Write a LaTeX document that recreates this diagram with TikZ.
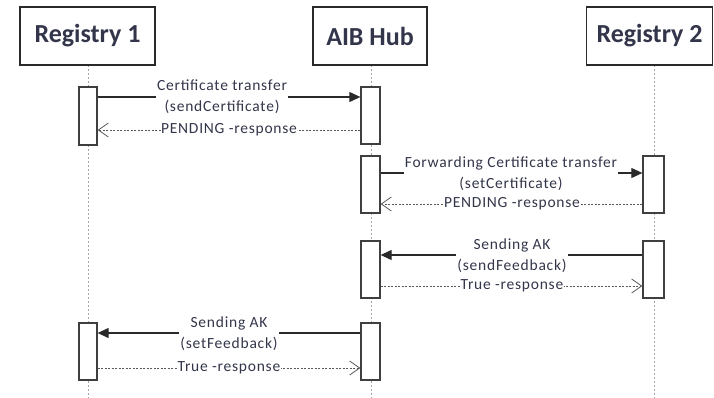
\documentclass[tikz,border=0pt]{standalone}
\usepackage{fontspec}
\setmainfont{Carlito}
\newfontfamily\lblfont[LetterSpace=5]{Carlito}
\usetikzlibrary{arrows.meta}
\definecolor{txt}{HTML}{33364A}
\definecolor{ln}{HTML}{2A2A2A}
\tikzset{
  head/.style={draw=ln, line width=1.6pt, fill=white, font=\fontsize{26}{30}\selectfont\bfseries, text=txt, inner sep=0pt},
  life/.style={draw=gray!70, line width=0.8pt, dash pattern=on 2pt off 2pt},
  bar/.style={draw=ln!90, line width=1.3pt, fill=white},
  msg/.style={draw=ln, line width=1.1pt, -{Triangle[length=11pt,width=10pt]}},
  ret/.style={draw=gray!70!black, line width=0.7pt, dash pattern=on 2pt off 1.5pt, -{Straight Barb[length=10pt,width=14pt,line width=0.8pt]}},
  lbl/.style={fill=white, inner sep=1pt, text=txt, font=\lblfont\fontsize{15.5}{21}\selectfont, align=center},
  rlbl/.style={fill=white, inner sep=0.5pt, text=txt, font=\lblfont\fontsize{15.5}{17}\selectfont}
}
\begin{document}
\begin{tikzpicture}[x=1pt,y=-1pt]
\useasboundingbox (0,0) rectangle (714,398);
% lifelines
\coordinate (l1t) at (88,65); \coordinate (l1b) at (88,398);
\coordinate (l2t) at (371,65); \coordinate (l2b) at (371,398);
\coordinate (l3t) at (654,65); \coordinate (l3b) at (654,398);
\draw[life] (l1t) -- (l1b);
\draw[life] (l2t) -- (l2b);
\draw[life] (l3t) -- (l3b);
% heads
\node[head, minimum width=135pt, minimum height=58pt] (r1) at (87.5,36) {Registry 1};
\node[head, minimum width=114pt, minimum height=58pt] (hub) at (370,36) {AIB Hub};
\node[head, minimum width=126pt, minimum height=58pt] (r2) at (649.5,36) {Registry 2};
% activation bars
\node[bar, minimum width=18pt, minimum height=58pt, inner sep=0pt] (a1) at (88,116) {};
\node[bar, minimum width=19pt, minimum height=57pt, inner sep=0pt] (b1) at (370.5,115.5) {};
\node[bar, minimum width=19pt, minimum height=57pt, inner sep=0pt] (b2) at (370.5,184.5) {};
\node[bar, minimum width=21pt, minimum height=57pt, inner sep=0pt] (c2) at (653.5,184.5) {};
\node[bar, minimum width=19pt, minimum height=57pt, inner sep=0pt] (b3) at (370.5,269.5) {};
\node[bar, minimum width=21pt, minimum height=57pt, inner sep=0pt] (c3) at (653.5,269.5) {};
\node[bar, minimum width=19pt, minimum height=57pt, inner sep=0pt] (b4) at (370.5,351.5) {};
\node[bar, minimum width=18pt, minimum height=57pt, inner sep=0pt] (a4) at (88,351.5) {};
% message 1
\draw[msg] (a1.east |- 0,97) -- (b1.west |- 0,97);
\node[lbl] (m1) at (222,96.5) {Certificate transfer\\(sendCertificate)};
\draw[ret] (b1.west |- 0,130) -- (a1.east |- 0,130);
\node[rlbl] (m1r) at (229,130) {PENDING -response};
% message 2
\draw[msg] (b2.east |- 0,173) -- (c2.west |- 0,173);
\node[lbl] (m2) at (511,173.5) {Forwarding Certificate transfer\\(setCertificate)};
\draw[ret] (c2.west |- 0,204) -- (b2.east |- 0,204);
\node[rlbl] (m2r) at (512,204) {PENDING -response};
% message 3
\draw[msg] (c3.west |- 0,255) -- (b3.east |- 0,255);
\node[lbl] (m3) at (512,255.5) {Sending AK\\(sendFeedback)};
\draw[ret] (b3.east |- 0,286) -- (c3.west |- 0,286);
\node[rlbl] (m3r) at (512,286) {True -response};
% message 4
\draw[msg] (b4.west |- 0,333) -- (a4.east |- 0,333);
\node[lbl] (m4) at (229,334) {Sending AK\\(setFeedback)};
\draw[ret] (a4.east |- 0,368) -- (b4.west |- 0,368);
\node[rlbl] (m4r) at (229,368) {True -response};
\end{tikzpicture}
\end{document}
